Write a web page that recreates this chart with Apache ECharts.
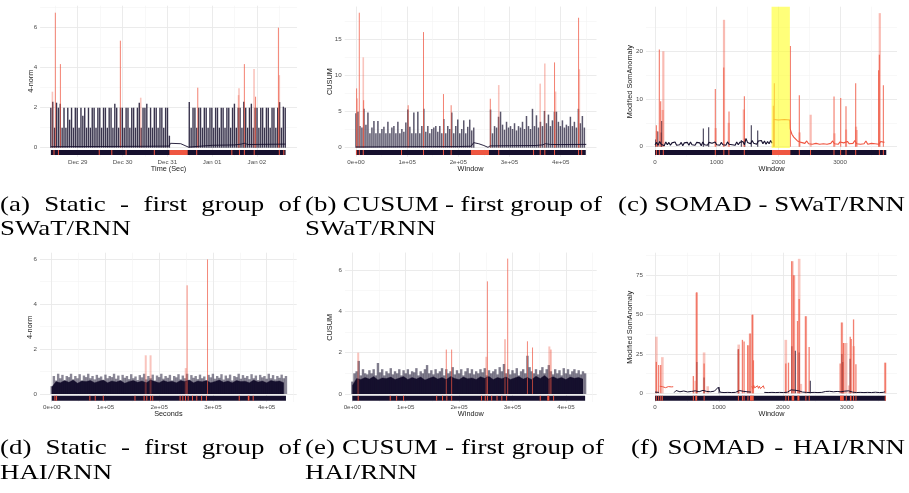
<!DOCTYPE html>
<html><head><meta charset="utf-8">
<script src="https://cdn.jsdelivr.net/npm/echarts@6/dist/echarts.min.js"></script>
<style>html,body{margin:0;padding:0;background:#fff}#c{width:909px;height:493px}</style>
</head><body><div id="c"></div>
<script>
// ================= DATA =================
// (a) Static - SWaT/RNN : x in days from Dec 29 00:00
const aTickValues = [0, 1, 2, 3, 4];
const aTickLabels = ['Dec 29', 'Dec 30', 'Dec 31', 'Jan 01', 'Jan 02'];
const aBars1Start = -0.6, aBars1Step = 0.042;
const aBars1 = [2.0,2.3,1.0,2.25,2.0,2.2,1.0,2.0,1.0,2.0,
  1.4,2.0,1.0,2.0,2.0,1.0,2.0,1.6,2.0,1.0,
  2.0,1.0,2.0,2.0,1.0,2.0,2.0,1.0,2.0,2.0,
  1.0,2.0,2.0,1.0,2.2,2.0,1.0,2.0,2.0,1.0,
  2.0,2.0,1.0,2.0,2.0,1.0,2.0,2.25,1.0,2.0,
  2.0,2.2,1.0,2.0,1.0,2.0,2.0,1.0,2.0,2.0,
  1.0,2.0,2.0,0.6];
const aBars2Start = 2.49, aBars2Step = 0.042;
const aBars2 = [2.28,1.0,2.0,2.0,1.0,2.0,2.0,1.0,2.0,2.0,
  1.0,2.0,2.0,1.0,2.0,2.0,1.0,2.0,2.0,1.0,
  2.0,2.0,1.0,2.0,2.2,1.0,2.0,2.0,1.0,2.3,
  2.0,1.0,2.0,2.2,1.0,2.0,2.0,1.0,2.0,2.0,
  1.0,2.0,2.0,1.0,2.0,2.0,1.0,2.0,2.28,1.0,
  2.05,2.0];
const aRedStrong = [[-0.5,6.75],[-0.387,4.18],[0.952,5.35],[2.68,3.0],[3.72,4.18],[3.97,2.55],[4.48,6.0]];
const aRedFaint = [[-0.565,2.8],[1.406,2.5],[3.59,2.63],[3.6,2.97],[3.936,3.93],[4.5,3.63]];
const aLine = [[-0.6,0.05],[0.5,0.06],[1.5,0.07],[2.04,0.08],[2.07,0.22],[2.3,0.2],[2.47,0.03],[2.5,0.12],[3.0,0.12],[3.5,0.14],[3.65,0.18],[3.72,0.22],[3.8,0.16],[4.64,0.18]];
const aSpan = [-0.6, 4.64];
const aAttacks = [[-0.53,-0.53],[-0.43,-0.43],[0.48,0.48],[0.76,0.76],[1.08,1.08],[1.71,1.71],[2.046,2.455],[2.656,2.656],[3.44,3.44],[3.61,3.61],[3.72,3.72],[3.94,3.94],[4.5,4.5],[4.6,4.6]];

// (b) CUSUM - SWaT/RNN : x in units of 1e5 windows
const sciTickValues = [0, 1, 2, 3, 4];
const sciTickLabels = ['0e+00', '1e+05', '2e+05', '3e+05', '4e+05'];
const bBars1Start = 0, bBars1Step = 0.039;
const bBars1 = [4.8,5.0,3.0,2.8,5.4,3.2,4.9,2.0,2.8,3.7,
  2.0,3.7,2.0,2.6,2.9,2.0,3.6,2.0,2.8,3.0,
  2.0,3.6,2.0,2.6,2.2,3.5,5.3,2.9,2.0,4.9,
  2.0,5.0,2.0,3.0,5.4,2.2,3.0,2.0,2.6,2.8,
  3.0,2.2,3.0,2.0,4.0,2.0,3.0,2.6,4.9,2.0,
  3.0,3.9,2.0,2.6,3.8,2.0,2.9,3.9,2.4,2.8];
const bBars2Start = 2.63, bBars2Step = 0.039;
const bBars2 = [5.3,2.0,3.0,2.8,4.3,5.0,3.2,2.5,3.6,2.8,
  3.0,2.6,3.4,2.4,3.0,2.8,3.6,2.6,4.4,3.0,
  2.6,5.4,3.0,4.5,2.8,3.6,3.0,5.1,3.4,4.6,
  3.0,3.8,5.0,5.0,3.6,3.0,3.8,2.8,3.2,3.0,
  4.3,3.0,3.6,2.8,5.4,3.4,4.4,2.8];
const bRedStrong = [[0.013,8.24],[0.065,18.75],[0.15,6.6],[1.02,5.9],[1.32,16.06],[1.71,7.45],[1.86,5.9],[2.625,6.8],[3.88,11.85],[4.35,18.05]];
const bRedFaint = [[0.026,6.85],[0.143,12.55],[2.79,8.7],[3.6,8.9],[3.69,11.7],[3.9,7.8],[4.365,10.9]];
const bLine = [[0,0.1],[0.5,0.12],[1.0,0.14],[1.5,0.15],[2.0,0.16],[2.25,0.2],[2.3,0.7],[2.4,0.55],[2.5,0.3],[2.58,0.05],[2.62,0.25],[3.0,0.28],[3.5,0.3],[3.65,0.4],[3.7,0.55],[3.8,0.45],[4.0,0.44],[4.5,0.46]];
const bSpan = [0, 4.49];
const bAttacks = [[0.013,0.013],[0.065,0.065],[0.143,0.143],[0.89,0.89],[1.32,1.32],[1.71,1.71],[1.86,1.86],[2.246,2.6],[2.79,2.79],[3.47,3.47],[3.6,3.6],[3.69,3.69],[3.88,3.88],[4.35,4.35],[4.41,4.41]];

// (c) SOMAD - SWaT/RNN : x in windows
const somTickValues = [0, 1000, 2000, 3000];
const cDarkStart = 0, cDarkStep = 25;
const cDark = [0.4,0.9,0.3,1.1,0.5,0.8,0.2,1.0,0.4,0.9,
  0.3,0.8,0.5,1.0,0.3,0.7,0.4,0.9,0.2,0.8,
  0.5,0.9,0.3,1.0,0.4,0.7,0.3,0.9,0.5,0.8,
  0.2,1.0,0.4,0.8,0.3,0.9,0.5,0.7,0.3,1.0,
  0.4,0.8,0.3,0.9,0.4,0.8,0.3,1.0,0.5,0.9,
  0.4,0.8,0.3,1.0,0.4,0.9,0.5,1.1,0.4,1.7,
  0.9,1.2,0.6,1.3,0.7,1.1,0.5,1.2,0.8,1.3,
  0.6,1.2,0.5,1.1,0.6,1.3,0.7];
const cFlat = [[1925,5.7],[2000,5.6],[2100,5.7],[2185,5.6]];
const cRedStart = 2190, cRedStep = 30;
const cRed = [3.8,2.6,2.0,1.6,1.2,1.4,0.9,1.1,0.7,1.2,
  0.6,1.0,0.5,0.9,0.7,1.1,0.5,0.8,0.6,1.0,
  0.5,0.9,0.7,1.2,0.6,0.9,0.5,1.0,0.6,0.8,
  0.5,1.1,0.6,0.9,0.7,1.3,0.6,1.0,0.5,0.9,
  0.6,1.2,0.5,0.8,0.7,1.0,0.6,0.9,0.5,1.1,
  0.7,0.9];
const cRedStrong = [[22,4.5],[70,20.4],[92,9.5],[978,12.1],[1115,16.6],[1200,7.4],[1449,10.6],[1919,8.6],[1935,13.3],[2195,21.1],[2340,10.8],[2903,10.5],[3011,10.2],[3097,8.5],[3254,13.3],[3625,16.0],[3638,19.3],[3703,12.9]];
const cRedFaint = [[30,3.3],[125,7.7],[135,20.0],[985,3.9],[1119,26.6],[1195,5.0],[1440,7.8],[2345,3.0],[2524,6.7],[2910,2.8],[3098,3.6],[3260,4.2],[3270,3.5],[3645,28.0]];
const cDarkSpikes = [[10,1.5],[45,3.2],[98,3.0],[108,5.4],[784,3.8],[870,4.1],[1400,1.4],[1455,1.7],[1562,4.5],[1665,3.4]];
const cBand = [[1890, 2187]];
const cSpan = [0, 3750];
const cAttacks = [[22,22],[68,72],[132,138],[978,978],[1116,1116],[1198,1198],[1448,1448],[1897,2195],[2340,2340],[2522,2522],[2902,2902],[3010,3010],[3097,3097],[3254,3254],[3638,3638],[3703,3703]];

// (d) Static - HAI/RNN : x in units of 1e5 seconds
const dHiStart = 0, dHiStep = 0.04;
const dHi = [0.35,0.8,0.6,0.9,0.7,0.85,0.6,0.8,0.75,0.9,
  0.65,0.8,0.7,0.88,0.6,0.82,0.75,0.9,0.7,0.8,
  0.65,0.85,0.72,0.78,0.6,0.86,0.7,0.8,0.75,0.9,
  0.68,0.82,0.6,0.85,0.72,0.8,0.66,0.88,0.7,0.78,
  0.62,0.84,0.74,0.9,0.65,0.8,0.7,0.86,0.6,0.82,
  0.75,0.9,0.68,0.8,0.72,0.85,0.6,0.8,0.74,0.88,
  0.65,0.82,0.7,0.9,0.62,0.84,0.72,0.8,0.66,0.86,
  0.7,0.78,0.6,0.85,0.74,0.9,0.68,0.8,0.72,0.88,
  0.64,0.82,0.7,0.86,0.6,0.8,0.75,0.9,0.68,0.84,
  0.72,0.8,0.66,0.88,0.7,0.82,0.62,0.85,0.74,0.8,
  0.68,0.9,0.7,0.84,0.65,0.8,0.72,0.86,0.7,0.8];
const dLoStart = 0, dLoStep = 0.08;
const dLo = [0.3,0.55,0.5,0.6,0.52,0.62,0.48,0.58,0.55,0.6,
  0.5,0.57,0.62,0.5,0.58,0.53,0.6,0.48,0.56,0.6,
  0.52,0.58,0.5,0.62,0.55,0.5,0.6,0.53,0.57,0.5,
  0.6,0.55,0.62,0.5,0.58,0.54,0.6,0.5,0.56,0.62,
  0.52,0.58,0.5,0.6,0.55,0.57,0.5,0.62,0.53,0.58,
  0.5,0.6,0.55,0.58,0.5];
const dRedStrong = [[2.52,4.83],[2.9,5.98]];
const dRedFaint = [[1.75,1.72],[1.84,1.72],[2.495,1.15]];
const dSpan = [0, 4.36];
const dAttacks = [[0.06,0.06],[0.09,0.09],[0.71,0.71],[0.81,0.81],[0.96,0.96],[1.55,1.55],[1.72,1.72],[1.77,1.77],[1.84,1.84],[1.88,1.88],[2.39,2.39],[2.44,2.44],[2.49,2.49],[2.54,2.54],[2.62,2.62],[2.7,2.7],[2.79,2.79],[2.88,2.88],[3.49,3.49],[3.65,3.68],[3.75,3.75]];

// (e) CUSUM - HAI/RNN : x in units of 1e5 windows
const eHiStart = 0, eHiStep = 0.04;
const eHi = [0.6,1.0,1.1,1.6,0.9,1.2,1.0,0.95,1.15,1.0,
  1.2,0.9,1.5,1.05,1.2,0.9,1.1,1.0,1.25,0.95,
  1.1,1.0,1.2,0.9,1.15,1.0,1.2,0.95,1.1,1.05,
  1.25,0.9,1.1,1.0,1.2,1.4,1.0,1.15,0.95,1.2,
  1.0,1.1,1.25,0.9,1.2,1.0,1.1,1.3,0.95,1.15,
  1.0,1.2,0.9,1.1,1.25,1.0,1.2,0.95,1.1,1.0,
  1.2,1.05,1.25,0.9,1.15,1.0,1.1,1.2,0.95,1.3,
  1.1,1.45,1.0,1.2,0.95,1.15,1.0,1.25,0.9,1.1,
  1.2,1.0,1.85,1.3,1.1,1.0,1.2,0.95,1.15,1.3,
  1.0,1.2,1.4,1.1,0.95,1.2,1.0,1.15,0.9,1.25,
  1.0,1.2,0.95,1.1,1.2,1.0,1.15,0.95,1.1,1.0];
const eLoStart = 0, eLoStep = 0.08;
const eLo = [0.4,0.75,0.7,0.8,0.72,0.85,0.68,0.78,0.75,0.82,
  0.7,0.77,0.85,0.7,0.8,0.73,0.82,0.68,0.76,0.84,
  0.72,0.8,0.7,0.85,0.75,0.7,0.82,0.74,0.78,0.7,
  0.84,0.76,0.85,0.7,0.8,0.74,0.82,0.7,0.78,0.85,
  0.72,0.8,0.7,0.86,0.75,0.9,0.72,0.84,0.74,0.8,
  0.7,0.82,0.76,0.8,0.72];
const eRedStrong = [[1.76,2.15],[1.86,2.15],[2.53,5.45],[2.91,6.55],[3.28,2.55],[3.375,2.25],[3.72,2.15]];
const eRedFaint = [[0.11,2.0],[2.51,1.8],[2.86,2.65],[3.69,2.3]];
const eSpan = [0, 4.36];
const eAttacks = [[0.11,0.11],[0.71,0.71],[0.83,0.83],[0.96,0.96],[1.58,1.58],[1.69,1.69],[1.77,1.77],[1.86,1.86],[2.42,2.42],[2.49,2.49],[2.53,2.53],[2.61,2.61],[2.71,2.71],[2.8,2.8],[2.89,2.89],[3.52,3.52],[3.65,3.69],[3.77,3.77]];

// (f) SOMAD - HAI/RNN : x in windows
const fDarkStart = 0, fDarkStep = 30;
const fDark = [0.8,1.5,0.6,null,null,null,null,null,null,null,
  0.5,1.8,0.6,1.0,0.5,1.5,0.6,0.9,0.5,1.2,
  0.7,1.6,2.5,1.0,0.6,1.9,0.8,1.2,0.6,1.0,
  0.5,1.4,0.6,3.9,0.7,1.1,0.5,1.3,0.6,0.9,
  0.5,1.2,0.6,1.0,1.8,0.7,1.3,0.6,1.0,1.6,
  0.8,null,null,null,null,null,null,0.6,1.0,0.5,
  1.2,0.6,1.4,0.5,1.0,0.6,1.3,0.5,1.1,0.7,
  1.8,2.2,1.5,2.0,1.2,1.6,1.0,0.8,1.4,0.6,
  1.1,0.5,1.3,0.6,1.0,0.5,1.4,0.6,0.9,1.2,
  0.5,1.3,0.6,1.0,0.7,1.2,1.5,1.0,0.8,1.4,
  1.2,1.6,1.0,0.8,1.3,0.5,1.1,0.6,1.4,0.5,
  1.0,0.6,1.3,0.5,1.2,0.7,1.0,0.5,1.3,0.6,
  1.0];
const fRed1Start = 75, fRed1Step = 15;
const fRed1 = [4.5,4.0,3.5,4.2,3.8,4.4,3.6,4.0,3.3,4.3,3.9,3.5,4.1,3.4,4.2];
const fRed2Start = 1515, fRed2Step = 15;
const fRed2 = [4.5,3.0,5.0,3.5,4.2,2.8,4.8,3.2,4.5,3.0,4.2,3.6,4.8,3.0];
const fRedStrong = [[21,20],[57,18],[89,18],[600,11],[653,64.3],[768,19],[1305,28],[1368,34],[1394,33],[1452,30.5],[1488,38],[1525,50],[1540,21],[2047,19],[2089,19.5],[2141,84],[2172,75],[2230,46],[2256,60],[2360,49],[2412,29.5],[2898,19],[2924,45],[2950,32],[3055,36],[3070,34.5],[3107,47],[3144,18.5],[3603,19.5]];
const fRedFaint = [[21,36],[115,23],[637,8],[650,64],[768,26],[825,4.5],[1310,31],[1460,30.5],[1488,38],[1525,50],[2047,34],[2150,84],[2175,75],[2256,85.5],[2282,6],[2360,49],[2924,45],[2960,32],[2992,32],[3039,5],[3110,30],[3603,19.5]];
const fDarkSpikes = [[653,20],[768,10],[1003,4],[1305,28],[2141,30],[2195,27],[2256,26],[2430,8],[2924,25],[2940,20],[3055,22]];
const fSpan = [0, 3610];
const fAttacks = [[15,25],[55,60],[85,95],[110,118],[595,605],[630,660],[765,772],[1300,1310],[1365,1372],[1390,1398],[1450,1460],[1485,1545],[2045,2050],[2087,2092],[2138,2178],[2228,2260],[2358,2364],[2410,2416],[2895,2955],[2990,2996],[3050,3075],[3105,3110],[3142,3148],[3600,3607]];

// captions
const captions = [
  ['(a) Static - first group of', 'SWaT/RNN'],
  ['(b) CUSUM - first group of', 'SWaT/RNN'],
  ['(c) SOMAD - SWaT/RNN'],
  ['(d) Static - first group of', 'HAI/RNN'],
  ['(e) CUSUM - first group of', 'HAI/RNN'],
  ['(f) SOMAD - HAI/RNN']
];

// ================= RENDER =================
const DARK = '#16102e', RED = '#ef5641';
const SANS = 'Liberation Sans', SERIF = 'Liberation Serif';
const pts = (start, step, vals) => vals.map((v, i) => [start + i * step, v]);

const panels = [
  {grid:{left:40.1, top:5.7, width:256.9, height:151}, xMin:-0.84, xMax:4.895, yMin:-0.45, yMax:7.1,
   xMajor:aTickValues, xLabels:aTickLabels, xMinor:[-0.5,0.5,1.5,2.5,3.5,4.5], yMajor:[0,2,4,6], yMinor:[1,3,5,7],
   xName:'Time (Sec)', yName:'4-norm', yGap:5.8, strip:[-0.115,-0.365]},
  {grid:{left:344.7, top:6.6, width:251.8, height:150.1}, xMin:-0.22, xMax:4.7, yMin:-1.25, yMax:19.6,
   xMajor:sciTickValues, xLabels:sciTickLabels, xMinor:[0.5,1.5,2.5,3.5,4.5], yMajor:[0,5,10,15], yMinor:[2.5,7.5,12.5,17.5],
   xName:'Window', yName:'CUSUM', yGap:11.5, strip:[-0.32,-1.01]},
  {grid:{left:646, top:6.7, width:251, height:150}, xMin:-146, xMax:3924, yMin:-2.1, yMax:29.35,
   xMajor:somTickValues, xLabels:null, xMinor:[500,1500,2500,3500], yMajor:[0,10,20], yMinor:[5,15,25],
   xName:'Window', yName:'Modified SomAnomaly', yGap:12.8, strip:[-0.69,-1.74]},
  {grid:{left:40, top:252.7, width:256.7, height:149.3}, xMin:-0.218, xMax:4.56, yMin:-0.356, yMax:6.28,
   xMajor:sciTickValues, xLabels:sciTickLabels, xMinor:[0.5,1.5,2.5,3.5,4.5], yMajor:[0,2,4,6], yMinor:[1,3,5],
   xName:'Seconds', yName:'4-norm', yGap:6.8, strip:[-0.075,-0.298]},
  {grid:{left:345, top:252.6, width:251.7, height:149.4}, xMin:-0.137, xMax:4.577, yMin:-0.387, yMax:6.84,
   xMajor:sciTickValues, xLabels:sciTickLabels, xMinor:[0.5,1.5,2.5,3.5,4.5], yMajor:[0,2,4,6], yMinor:[1,3,5],
   xName:'Window', yName:'CUSUM', yGap:11.5, strip:[-0.082,-0.324]},
  {grid:{left:646, top:252.7, width:251, height:149.3}, xMin:-141, xMax:3787, yMin:-5.5, yMax:89.4,
   xMajor:somTickValues, xLabels:null, xMinor:[500,1500,2500,3500], yMajor:[0,25,50,75], yMinor:[12.5,37.5,62.5,87.5],
   xName:'Window', yName:'Modified SomAnomaly', yGap:12.5, strip:[-1.5,-4.7]}
];

const grids = [], xAxes = [], yAxes = [];
panels.forEach((p, i) => {
  grids.push(Object.assign({containLabel:false}, p.grid));
  const lbl = {color:'#4d4d4d', fontSize:6.2, fontFamily:SANS};
  xAxes.push({type:'value', gridIndex:i, min:p.xMin, max:p.xMax, position:'bottom',
    axisLine:{show:false}, axisTick:{show:false, customValues:p.xMajor},
    axisLabel:Object.assign({customValues:p.xMajor, margin:2.5,
      formatter:(v)=>{ if (!p.xLabels) return String(v); const k = p.xMajor.indexOf(v); return k>=0 ? p.xLabels[k] : ''; }}, lbl),
    splitLine:{show:true, lineStyle:{color:'#e9e9e9', width:0.9}},
    name:p.xName, nameLocation:'middle', nameGap:8.5, nameMoveOverlap:false,
    nameTextStyle:{color:'#1a1a1a', fontSize:7.3, fontFamily:SANS, verticalAlign:'top'}});
  xAxes.push({type:'value', gridIndex:i, min:p.xMin, max:p.xMax, position:'top',
    axisLine:{show:false}, axisTick:{show:false, customValues:p.xMinor},
    axisLabel:{show:false, customValues:p.xMinor},
    splitLine:{show:true, lineStyle:{color:'#f3f3f3', width:0.6}}});
  yAxes.push({type:'value', gridIndex:i, min:p.yMin, max:p.yMax, position:'left',
    axisLine:{show:false}, axisTick:{show:false, customValues:p.yMajor},
    axisLabel:Object.assign({customValues:p.yMajor, margin:3}, lbl),
    splitLine:{show:true, lineStyle:{color:'#e9e9e9', width:0.9}},
    name:p.yName, nameLocation:'middle', nameGap:p.yGap, nameMoveOverlap:false,
    nameTextStyle:{color:'#1a1a1a', fontSize:7.3, fontFamily:SANS}});
  yAxes.push({type:'value', gridIndex:i, min:p.yMin, max:p.yMax, position:'right',
    axisLine:{show:false}, axisTick:{show:false, customValues:p.yMinor},
    axisLabel:{show:false, customValues:p.yMinor},
    splitLine:{show:true, lineStyle:{color:'#f3f3f3', width:0.6}}});
});

function spikes(pi, data, color, opacity, width) {
  return {type:'custom', xAxisIndex:2*pi, yAxisIndex:2*pi, silent:true, z:3, data,
    renderItem:(params, api) => {
      const x = api.value(0), y = api.value(1);
      const a = api.coord([x, 0]), b = api.coord([x, y]);
      return {type:'line', shape:{x1:a[0], y1:a[1], x2:b[0], y2:b[1]},
        style:{stroke:color, lineWidth:width, opacity:opacity}};
    }};
}
function lineS(pi, data, color, width, area) {
  const s = {type:'line', xAxisIndex:2*pi, yAxisIndex:2*pi, silent:true, z:3, data,
    showSymbol:false, symbol:'none', connectNulls:false,
    lineStyle:{color, width}};
  if (area) s.areaStyle = {color, opacity:1};
  return s;
}
function strip(pi, data, color, minW, z) {
  const st = panels[pi].strip;
  return {type:'custom', xAxisIndex:2*pi, yAxisIndex:2*pi, silent:true, z, data,
    renderItem:(params, api) => {
      const a = api.coord([api.value(0), st[0]]), b = api.coord([api.value(1), st[1]]);
      let w = b[0] - a[0], x = a[0];
      if (w < minW) { x = a[0] - (minW - w) / 2; w = minW; }
      return {type:'rect', shape:{x, y:a[1], width:w, height:b[1]-a[1]}, style:{fill:color}};
    }};
}
function band(pi, data, yBottom) {
  return {type:'custom', xAxisIndex:2*pi, yAxisIndex:2*pi, silent:true, z:4, data,
    renderItem:(params, api) => {
      const cs = params.coordSys;
      const a = api.coord([api.value(0), yBottom]), b = api.coord([api.value(1), yBottom]);
      return {type:'rect', shape:{x:a[0], y:cs.y, width:b[0]-a[0], height:a[1]-cs.y},
        style:{fill:'rgba(255,255,40,0.62)'}};
    }};
}

const series = [
  // (a)
  spikes(0, pts(aBars1Start, aBars1Step, aBars1), DARK, 0.85, 1.4),
  spikes(0, pts(aBars2Start, aBars2Step, aBars2), DARK, 0.85, 1.4),
  lineS(0, aLine, DARK, 0.9),
  spikes(0, aRedFaint, RED, 0.35, 1.6),
  spikes(0, aRedStrong, RED, 0.75, 1.0),
  strip(0, [aSpan], DARK, 1, 5), strip(0, aAttacks, RED, 1, 6),
  // (b)
  spikes(1, pts(bBars1Start, bBars1Step, bBars1), DARK, 0.7, 1.5),
  spikes(1, pts(bBars2Start, bBars2Step, bBars2), DARK, 0.7, 1.5),
  lineS(1, bLine, DARK, 0.9),
  spikes(1, bRedFaint, RED, 0.35, 1.6),
  spikes(1, bRedStrong, RED, 0.75, 1.0),
  strip(1, [bSpan], DARK, 1, 5), strip(1, bAttacks, RED, 1, 6),
  // (c)
  lineS(2, pts(cDarkStart, cDarkStep, cDark), DARK, 1.1),
  spikes(2, cDarkSpikes, DARK, 0.75, 1.2),
  lineS(2, cFlat.concat(pts(cRedStart, cRedStep, cRed)), RED, 1.1),
  spikes(2, cRedFaint, RED, 0.4, 2.2),
  spikes(2, cRedStrong, RED, 0.8, 1.1),
  band(2, cBand, -0.3),
  strip(2, [cSpan], DARK, 1, 5), strip(2, cAttacks, RED, 1, 6),
  // (d)
  lineS(3, pts(dLoStart, dLoStep, dLo), DARK, 0.4, true),
  spikes(3, pts(dHiStart, dHiStep, dHi), DARK, 0.5, 2.4),
  spikes(3, dRedFaint, RED, 0.35, 2.0),
  spikes(3, dRedStrong, RED, 0.7, 1.0),
  strip(3, [dSpan], DARK, 1, 5), strip(3, dAttacks, RED, 1, 6),
  // (e)
  lineS(4, pts(eLoStart, eLoStep, eLo), DARK, 0.4, true),
  spikes(4, pts(eHiStart, eHiStep, eHi), DARK, 0.55, 2.4),
  spikes(4, eRedFaint, RED, 0.35, 2.0),
  spikes(4, eRedStrong, RED, 0.7, 1.0),
  strip(4, [eSpan], DARK, 1, 5), strip(4, eAttacks, RED, 1, 6),
  // (f)
  lineS(5, pts(fDarkStart, fDarkStep, fDark), DARK, 1.0),
  lineS(5, pts(fRed1Start, fRed1Step, fRed1), RED, 1.0),
  lineS(5, pts(fRed2Start, fRed2Step, fRed2), RED, 1.0),
  spikes(5, fDarkSpikes, DARK, 0.7, 1.4),
  spikes(5, fRedFaint, RED, 0.35, 2.6),
  spikes(5, fRedStrong, RED, 0.75, 1.3),
  strip(5, [fSpan], DARK, 1, 5), strip(5, fAttacks, RED, 1, 6)
];

// captions (Times-like serif, stretched to the LaTeX widths, justified)
const FONT_PX = 22;
const mctx = document.createElement('canvas').getContext('2d');
mctx.font = FONT_PX + 'px "' + SERIF + '"';
const refLineWidth = 287; // width of "(c) SOMAD - SWaT/RNN"
const SX = refLineWidth / mctx.measureText(captions[2][0]).width;
function textEl(t, x, y) {
  return {type:'text', x, y, scaleX:SX, silent:true,
    style:{text:t, fill:'#000', fontSize:FONT_PX, fontFamily:SERIF, verticalAlign:'middle', align:'left'}};
}
function justified(t, x0, x1, y) {
  const words = t.split(' ');
  const ws = words.map(w => mctx.measureText(w).width * SX);
  const tot = ws.reduce((s, v) => s + v, 0);
  const gap = words.length > 1 ? (x1 - x0 - tot) / (words.length - 1) : 0;
  let x = x0; const out = [];
  words.forEach((w, i) => { out.push(textEl(w, x, y)); x += ws[i] + gap; });
  return out;
}
const capLayout = [
  {x0:0, x1:301, y:[205, 229]},
  {x0:305, x1:602, y:[205, 229]},
  {x0:618, x1:905, y:[205]},
  {x0:0, x1:301, y:[448, 473]},
  {x0:305, x1:604, y:[448, 473]},
  {x0:631, x1:905, y:[448]}
];
let graphics = [];
captions.forEach((lines, i) => {
  const L = capLayout[i];
  graphics = graphics.concat(justified(lines[0], L.x0, L.x1, L.y[0]));
  if (lines[1]) graphics.push(textEl(lines[1], L.x0, L.y[1]));
});

const chart = echarts.init(document.getElementById('c'), null, {renderer:'canvas', width:909, height:493});
chart.setOption({
  backgroundColor:'#ffffff', animation:false,
  grid:grids, xAxis:xAxes, yAxis:yAxes, series, graphic:graphics
});
</script></body></html>
